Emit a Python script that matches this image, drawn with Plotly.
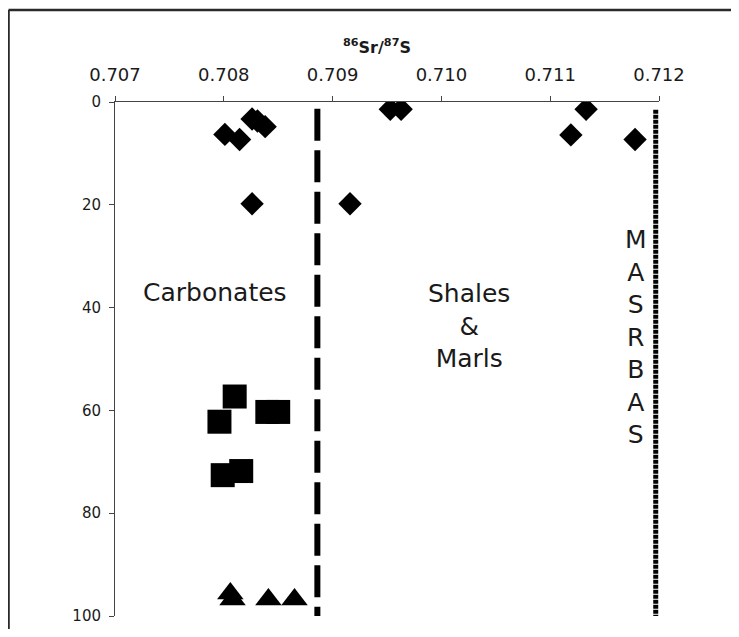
import plotly.graph_objects as go

# ---- data ----
diamond_x = [0.70801, 0.708145, 0.70826, 0.70831, 0.70838, 0.70953, 0.70963,
             0.71133, 0.71119, 0.71178, 0.70826, 0.70916]
diamond_y = [6.3, 7.3, 3.3, 3.7, 4.8, 1.4, 1.4, 1.4, 6.4, 7.3, 19.8, 19.8]

square_x = [0.70810, 0.70796, 0.70840, 0.70850, 0.70799, 0.70816]
square_y = [57.3, 62.2, 60.3, 60.3, 72.6, 71.8]

triangle_x = [0.70806, 0.70808, 0.70841, 0.70865]
triangle_y = [95.6, 96.8, 96.8, 96.8]

carb_boundary_x = [0.70886, 0.70886]
carb_boundary_y = [1.3, 100]
masrbas_x = [0.71197, 0.71197]
masrbas_y = [1.5, 100]

x_ticks = [0.707, 0.708, 0.709, 0.710, 0.711, 0.712]
x_tick_labels = ["0.707", "0.708", "0.709", "0.710", "0.711", "0.712"]
y_ticks = [0, 20, 40, 60, 80, 100]

FONT = "DejaVu Sans"
INK = "#1a1a1a"

fig = go.Figure()

fig.add_trace(go.Scatter(x=carb_boundary_x, y=carb_boundary_y, mode="lines",
                         line=dict(color="black", width=6, dash="32px,9.5px"),
                         showlegend=False, hoverinfo="skip"))
fig.add_trace(go.Scatter(x=masrbas_x, y=masrbas_y, mode="lines",
                         line=dict(color="black", width=5, dash="4px,1px"),
                         showlegend=False, hoverinfo="skip"))

fig.add_trace(go.Scatter(x=diamond_x, y=diamond_y, mode="markers",
                         marker=dict(symbol="diamond", size=18, color="black"),
                         showlegend=False))
fig.add_trace(go.Scatter(x=square_x, y=square_y, mode="markers",
                         marker=dict(symbol="square", size=24, color="black"),
                         showlegend=False))
fig.add_trace(go.Scatter(x=triangle_x, y=triangle_y, mode="markers",
                         marker=dict(symbol="triangle-up", size=23, color="black"),
                         showlegend=False))

fig.add_annotation(x=0.707919, y=37.0, xref="x", yref="y", text="Carbonates",
                   showarrow=False, font=dict(family=FONT, size=25, color=INK))
fig.add_annotation(x=0.710256, y=43.6, xref="x", yref="y",
                   text="Shales<br>&<br>Marls", showarrow=False,
                   font=dict(family=FONT, size=25, color=INK))
fig.add_annotation(x=0.711791, y=45.8, xref="x", yref="y",
                   text="M<br>A<br>S<br>R<br>B<br>A<br>S", showarrow=False,
                   font=dict(family=FONT, size=25, color=INK))

fig.add_annotation(x=0.4814, y=1.132, xref="paper", yref="paper",
                   text="<b><sup>86</sup>Sr/<sup>87</sup>S</b>", showarrow=False,
                   font=dict(family=FONT, size=16, color=INK))

# outer frame: only top and left edges are visible in the reference
fig.add_shape(type="line", xref="paper", yref="paper",
              x0=-0.1957, x1=1.3, y0=1.1791, y1=1.1791,
              line=dict(color="#2a2a2a", width=2.5), layer="below")
fig.add_shape(type="line", xref="paper", yref="paper",
              x0=-0.1957, x1=-0.1957, y0=-0.3, y1=1.1791,
              line=dict(color="#2a2a2a", width=2.5), layer="below")

fig.update_layout(
    width=723, height=621,
    margin=dict(l=107, r=72, t=94, b=13, autoexpand=False),
    paper_bgcolor="white", plot_bgcolor="white",
    font=dict(family=FONT, color=INK),
    xaxis=dict(side="top", range=[0.707, 0.712], tickvals=x_ticks,
               ticktext=x_tick_labels, showgrid=False, zeroline=False,
               showline=True, linecolor="#444", linewidth=1,
               ticks="outside", ticklen=5, tickcolor="#444",
               tickfont=dict(family=FONT, size=18, color=INK),
               ticklabelstandoff=8, automargin=False),
    yaxis=dict(range=[100, 0], tickvals=y_ticks, showgrid=False, zeroline=False,
               showline=True, linecolor="#444", linewidth=1,
               ticks="outside", ticklen=5, tickcolor="#444",
               tickfont=dict(family=FONT, size=15, color=INK),
               ticklabelstandoff=5, automargin=False),
)

fig.write_html("out.html")
